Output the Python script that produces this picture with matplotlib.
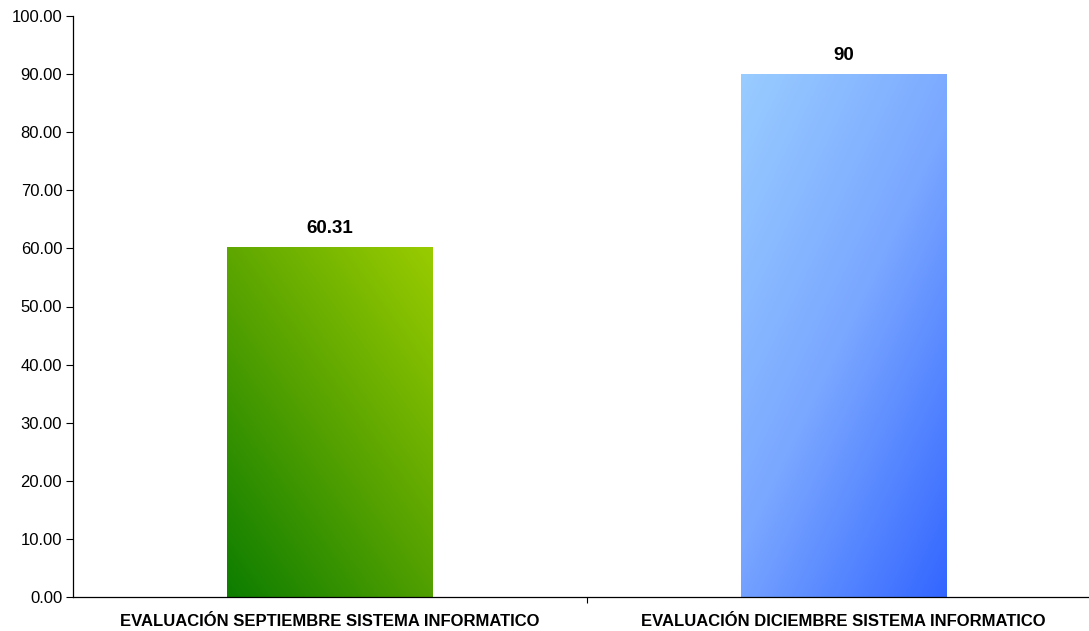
import numpy as np
import matplotlib
matplotlib.use("Agg")
import matplotlib.pyplot as plt
from matplotlib.colors import LinearSegmentedColormap
from matplotlib.ticker import FormatStrFormatter

categories = ["EVALUACIÓN SEPTIEMBRE SISTEMA INFORMATICO",
              "EVALUACIÓN DICIEMBRE SISTEMA INFORMATICO"]
values = [60.31, 90]
value_labels = ["60.31", "90"]
yticks = [0, 10, 20, 30, 40, 50, 60, 70, 80, 90, 100]

plt.rcParams['font.family'] = ['Liberation Sans', 'DejaVu Sans']

W, H = 1089, 631
fig = plt.figure(figsize=(W / 100, H / 100), dpi=100)
left_px, right_px = 73.25, 1100.25
top_px, bottom_px = 16, 597
ax = fig.add_axes([left_px / W, 1 - bottom_px / H, (right_px - left_px) / W, (bottom_px - top_px) / H])
ax.set_xlim(-0.5, 1.5)
ax.set_ylim(0, 100)

green = LinearSegmentedColormap.from_list("g", ["#0d7d00", "#58a300", "#99cc00"])
blue = LinearSegmentedColormap.from_list("b", ["#99ccff", "#7aa7ff", "#3366ff"])
n = 200
u = np.linspace(0, 1, n)
U, V = np.meshgrid(u, u)
grad_green = 0.45 * U + 0.55 * V
grad_blue = 0.45 * U + 0.55 * (1 - V)
grads = [(grad_green, green), (grad_blue, blue)]

width = 0.4
bars = ax.bar(range(len(values)), values, width=width, color="none", edgecolor="none", zorder=2)
for bar, (g, cm) in zip(bars, grads):
    x0, y0 = bar.get_x(), bar.get_y()
    w, h = bar.get_width(), bar.get_height()
    im = ax.imshow(g, cmap=cm, extent=[x0, x0 + w, y0, y0 + h], origin="lower",
                   aspect="auto", interpolation="bilinear", zorder=2)
    im.set_clip_path(bar)

for i, (v, lab) in enumerate(zip(values, value_labels)):
    ax.annotate(lab, (i, v), xytext=(0, 7), textcoords="offset points",
                ha="center", va="bottom", fontsize=13.5, fontweight="bold")

ax.set_yticks(yticks)
ax.yaxis.set_major_formatter(FormatStrFormatter("%.2f"))
ax.tick_params(axis="y", direction="out", length=5, width=0.8, labelsize=12, pad=3)

ax.set_xticks([0.5])
ax.set_xticklabels([""])
ax.tick_params(axis="x", which="major", direction="out", length=4, width=0.8)
ax.set_xticks([0, 1], minor=True)
ax.set_xticklabels(categories, minor=True, fontsize=12, fontweight="bold")
ax.tick_params(axis="x", which="minor", length=0, pad=12.5)

for s in ["top", "right"]:
    ax.spines[s].set_visible(False)
for s in ["left", "bottom"]:
    ax.spines[s].set_linewidth(0.9)

fig.savefig("out.png", dpi=100)
